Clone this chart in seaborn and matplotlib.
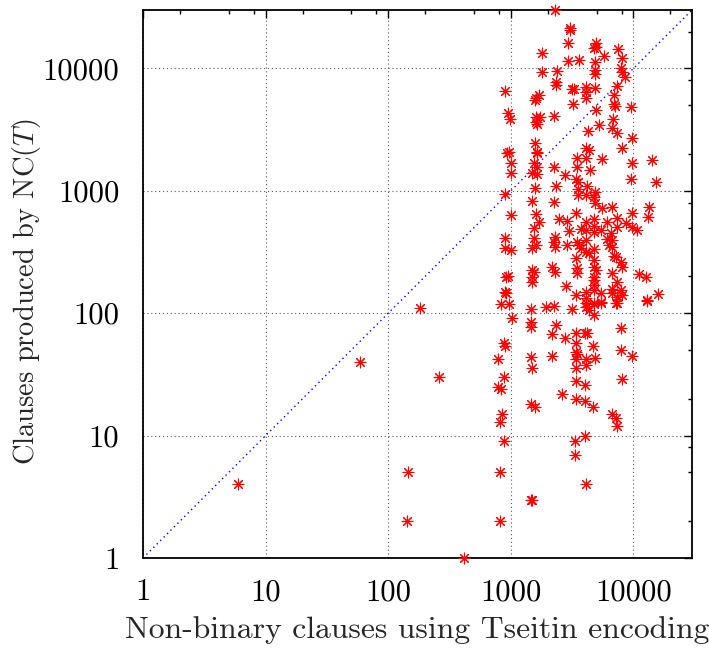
import matplotlib
matplotlib.use("Agg")
import matplotlib.pyplot as plt
import matplotlib.ticker as mticker
import seaborn as sns
import pandas as pd

# non-binary clauses with Tseitin encoding (x) vs clauses produced by NC(T) (y)
tseitin = [
    5.9, 59, 183, 261, 146, 141, 417,
    818, 819, 882, 1463, 1490, 3336, 3336, 4100,
    834, 969, 1463, 1937, 2250, 3155, 4101, 4760, 5426, 4337, 4760, 7320, 12850,
    1025, 1463, 1463, 2337, 2168, 2766, 3399, 4026, 4178, 3399, 4672, 7890,
    882, 899, 788, 1463, 1490, 2168, 3399, 3399, 3399, 3463, 4101, 4101, 4849,
    7890, 9700, 882, 788, 834, 3399, 4026, 8038, 2615, 3399, 4026, 4672,
    1463, 1577, 850, 818, 6670, 7185, 7320, 4026,
    933, 1637, 1005, 1005, 1548, 1637, 1490, 1637, 2250, 2766, 3463, 4101,
    3463, 4418, 3399, 3528, 5528, 9700, 14110, 9520, 15220, 2337, 1577, 899,
    3528, 3528, 4178, 4101, 4849, 4760, 1490, 2250, 4849, 5528, 6670, 13340,
    1005, 1607, 3399, 9700, 13090, 2472, 2871, 1700, 1548, 4101, 4760, 4760,
    4101, 4760, 6077, 7320, 7320, 8670, 9700, 10660, 2980, 3731, 5426, 6547,
    6670, 899, 899, 1005, 1548, 1490, 1607, 2293, 2293, 2250, 2871, 3463,
    3594, 3731, 4101, 4101, 4337, 4760, 6077, 6307, 6670, 3399, 6922, 7185,
    7890, 8038, 4760, 4760, 4940, 4760, 2168, 2293, 3463, 3463, 6670, 916,
    951, 1490, 1490, 1548, 1490, 4760, 4760, 2818, 11060, 12610, 7320, 899,
    916, 3399, 4101, 4101, 6670, 6670, 7890, 8038, 7320, 7185, 4760, 5426,
    5426, 4760, 15800, 12850, 4101,
    2293, 3036, 3036, 2925, 4940, 4940, 4760, 7457, 1797, 5738, 8038, 2925,
    3594, 4849, 1797, 2381, 4849, 4849, 7890, 8038, 8510, 2337, 2337, 899,
    1607, 1700, 1577, 3155, 3275, 4101, 4849, 4101, 4101, 7320, 6922, 3214,
    6922, 7052, 9520, 4940, 951, 987, 1607, 1731, 1607, 1637, 2250, 6795,
    5227, 6670, 7320, 4257, 9700, 1577, 1637, 969, 8038, 4101, 4337,
]
nc_clauses = [
    4, 40, 111, 30, 5, 2, 1,
    2, 5, 9, 3, 3, 9, 7, 4,
    119, 119, 109, 113, 115, 109, 122, 119, 122, 107, 97, 122, 126,
    92, 84, 77, 80, 67, 63, 69, 69, 69, 57, 54, 75,
    57, 54, 42, 44, 36, 45, 48, 42, 36, 46, 42, 38, 43,
    50, 45, 30, 25, 24, 28, 26, 29, 22, 20, 19, 17,
    18, 17, 15, 13, 15, 14, 12, 10,
    2050, 2050, 1698, 1406, 1698, 1574, 1406, 1380, 1574, 1355, 1865, 1865,
    1574, 1488, 1256, 1187, 1830, 1698, 1796, 1256, 1187, 1100, 1060, 947,
    1040, 929, 1100, 929, 984, 895, 830, 815, 800, 728, 741, 741,
    638, 650, 662, 662, 614, 592, 570, 559, 499, 559, 592, 518,
    481, 463, 559, 603, 509, 548, 509, 481, 472, 490, 481, 454,
    398, 414, 343, 330, 414, 343, 362, 421, 349, 384, 362, 384,
    362, 343, 398, 318, 312, 336, 406, 362, 349, 284, 295, 289,
    263, 240, 273, 240, 226, 198, 240, 218, 235, 214, 214, 198,
    202, 226, 198, 218, 181, 188, 171, 167, 210, 198, 181, 150,
    147, 141, 150, 134, 158, 147, 155, 141, 136, 122, 155, 147,
    124, 122, 144, 129, 113,
    30000, 21570, 20760, 16250, 16250, 15080, 14790, 14510, 13460, 12740, 12250, 11580,
    11800, 11370, 9420, 9600, 9780, 9070, 10160, 9420, 8570, 7800, 7380, 6580,
    5770, 6100, 5560, 6840, 6840, 7100, 6970, 6460, 5770, 7230, 6100, 5150,
    5150, 4960, 4870, 4600, 4350, 3890, 4040, 4040, 3670, 3540, 4110, 3890,
    3470, 3280, 2990, 3100, 2720, 2470, 2090, 2090, 2250, 2250, 2170,
]

tick_values = [1, 10, 100, 1000, 10000]
tick_labels = ["1", "10", "100", "1000", "10000"]
axis_max = 30000

df = pd.DataFrame({"tseitin": tseitin, "nc": nc_clauses})

sns.set_style("white")
plt.rcParams["font.family"] = ["cmr10", "DejaVu Serif"]
plt.rcParams["mathtext.fontset"] = "cm"
plt.rcParams["axes.formatter.use_mathtext"] = True

fig = plt.figure(figsize=(7.09, 6.49), dpi=100)
ax = fig.add_axes([143 / 709, 1 - 558 / 649, (692 - 143) / 709, (558 - 10) / 649])
ax.set_xscale("log")
ax.set_yscale("log")
ax.set_xlim(1, axis_max)
ax.set_ylim(1, axis_max)

# y = x reference line
ax.plot([1, axis_max], [1, axis_max], color="blue", linestyle=(0, (1, 2.5)), linewidth=1)

sns.scatterplot(data=df, x="tseitin", y="nc", marker=(8, 2, 0), color="red",
                s=60, linewidth=0.8, ax=ax, clip_on=False, zorder=3)

ax.xaxis.set_major_locator(mticker.FixedLocator(tick_values))
ax.yaxis.set_major_locator(mticker.FixedLocator(tick_values))
ax.xaxis.set_major_formatter(mticker.FixedFormatter(tick_labels))
ax.yaxis.set_major_formatter(mticker.FixedFormatter(tick_labels))
ax.xaxis.set_minor_locator(mticker.LogLocator(base=10, subs=(2, 5, 8)))
ax.yaxis.set_minor_locator(mticker.LogLocator(base=10, subs=(2, 5, 8)))
ax.xaxis.set_minor_formatter(mticker.NullFormatter())
ax.yaxis.set_minor_formatter(mticker.NullFormatter())
ax.tick_params(which="both", direction="in", top=True, right=True, width=1, colors="black")
ax.tick_params(which="major", length=6, labelsize=22)
ax.tick_params(which="minor", length=3)
ax.tick_params(axis="x", which="major", pad=15)
ax.tick_params(axis="y", which="major", pad=17)

ax.grid(which="major", color="0.35", linestyle=(0, (1, 2.5)), linewidth=0.8)
for sp in ax.spines.values():
    sp.set_color("black")
    sp.set_linewidth(1.3)

ax.set_xlabel("Non-binary clauses using Tseitin encoding", fontsize=22.8, labelpad=7)
ax.set_ylabel("Clauses produced by NC($T$)", fontsize=20.5)
ax.yaxis.set_label_coords(-0.182, 0.485)

fig.savefig("out.png", dpi=100)
